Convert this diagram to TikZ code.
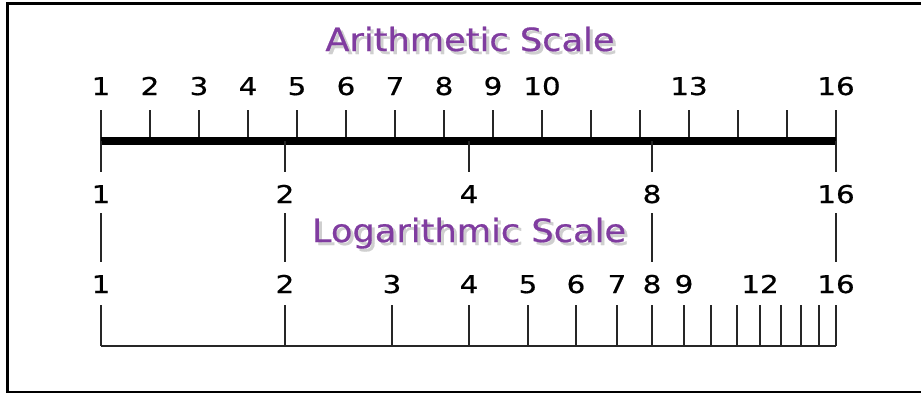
\documentclass[tikz,border=0pt]{standalone}
\usepackage{fontspec}
\setmainfont{DejaVu Sans}
\newfontfamily\numfont[FakeStretch=1.2,FakeBold=0.6]{DejaVu Sans}
\newfontfamily\headfont[FakeStretch=1.1,FakeBold=0.6]{DejaVu Sans}
\definecolor{ttl}{HTML}{803CA0}
\definecolor{shd}{HTML}{CFCFCF}
\begin{document}
\begin{tikzpicture}[x=1pt,y=-1pt,
  num/.style={font=\numfont\fontsize{24.5}{24.5}\selectfont, anchor=base, inner sep=0pt},
  ttlbox/.style={font=\headfont\fontsize{32}{32}\selectfont, text=ttl, inner sep=0pt, anchor=base},
  shdbox/.style={font=\headfont\fontsize{32}{32}\selectfont, text=shd, inner sep=0pt, anchor=base},
  tickline/.style={line width=2pt, draw=black!85},
  axisthick/.style={line width=7.3pt},
  axisthin/.style={line width=2pt, draw=black!85},
  framebox/.style={line width=2.5pt}]
\useasboundingbox (0,0) rectangle (921,397);
\fill[white] (0,0) rectangle (921,397);
\draw[framebox] (7.5,3.5) rectangle (940,392);
% titles
\node[shdbox] at (473,54) {Arithmetic Scale};
\node[ttlbox] (tA) at (470,51) {Arithmetic Scale};
\node[shdbox] at (472,245) {Logarithmic Scale};
\node[ttlbox] (tL) at (469,242) {Logarithmic Scale};
% arithmetic scale
\foreach \n in {1,...,16}{
  \coordinate (au\n) at ({101+49*(\n-1)},110);
  \coordinate (ab\n) at ({101+49*(\n-1)},141);
  \draw[tickline] (au\n) -- (ab\n);
}
\foreach \n in {1,...,10,13,16}{
  \node[num] (a\n) at ({101+49*(\n-1)},95) {\n};
}
\draw[axisthick] (ab1) -- (ab16);
% lower ticks (doubling)
\foreach \n in {1,2,4,8,16}{
  \coordinate (gt\n) at ({round(101+183.75*ln(\n)/ln(2))},141);
  \coordinate (gb\n) at ({round(101+183.75*ln(\n)/ln(2))},172);
  \draw[tickline] (gt\n) -- (gb\n);
  \node[num] (g\n) at ({round(101+183.75*ln(\n)/ln(2))},203) {\n};
}
% connecting ticks between rows
\foreach \n in {1,2,8,16}{
  \coordinate (ct\n) at ({round(101+183.75*ln(\n)/ln(2))},213);
  \coordinate (cb\n) at ({round(101+183.75*ln(\n)/ln(2))},262);
  \draw[tickline] (ct\n) -- (cb\n);
}
% logarithmic scale
\foreach \n in {1,...,16}{
  \coordinate (lt\n) at ({round(101+183.75*ln(\n)/ln(2))},305);
  \coordinate (lb\n) at ({round(101+183.75*ln(\n)/ln(2))},346);
  \draw[tickline] (lt\n) -- (lb\n);
}
\foreach \n in {1,...,9,12,16}{
  \node[num] (l\n) at ({round(101+183.75*ln(\n)/ln(2))},293) {\n};
}
\draw[axisthin] (lb1) -- (lb16);
\end{tikzpicture}
\end{document}
